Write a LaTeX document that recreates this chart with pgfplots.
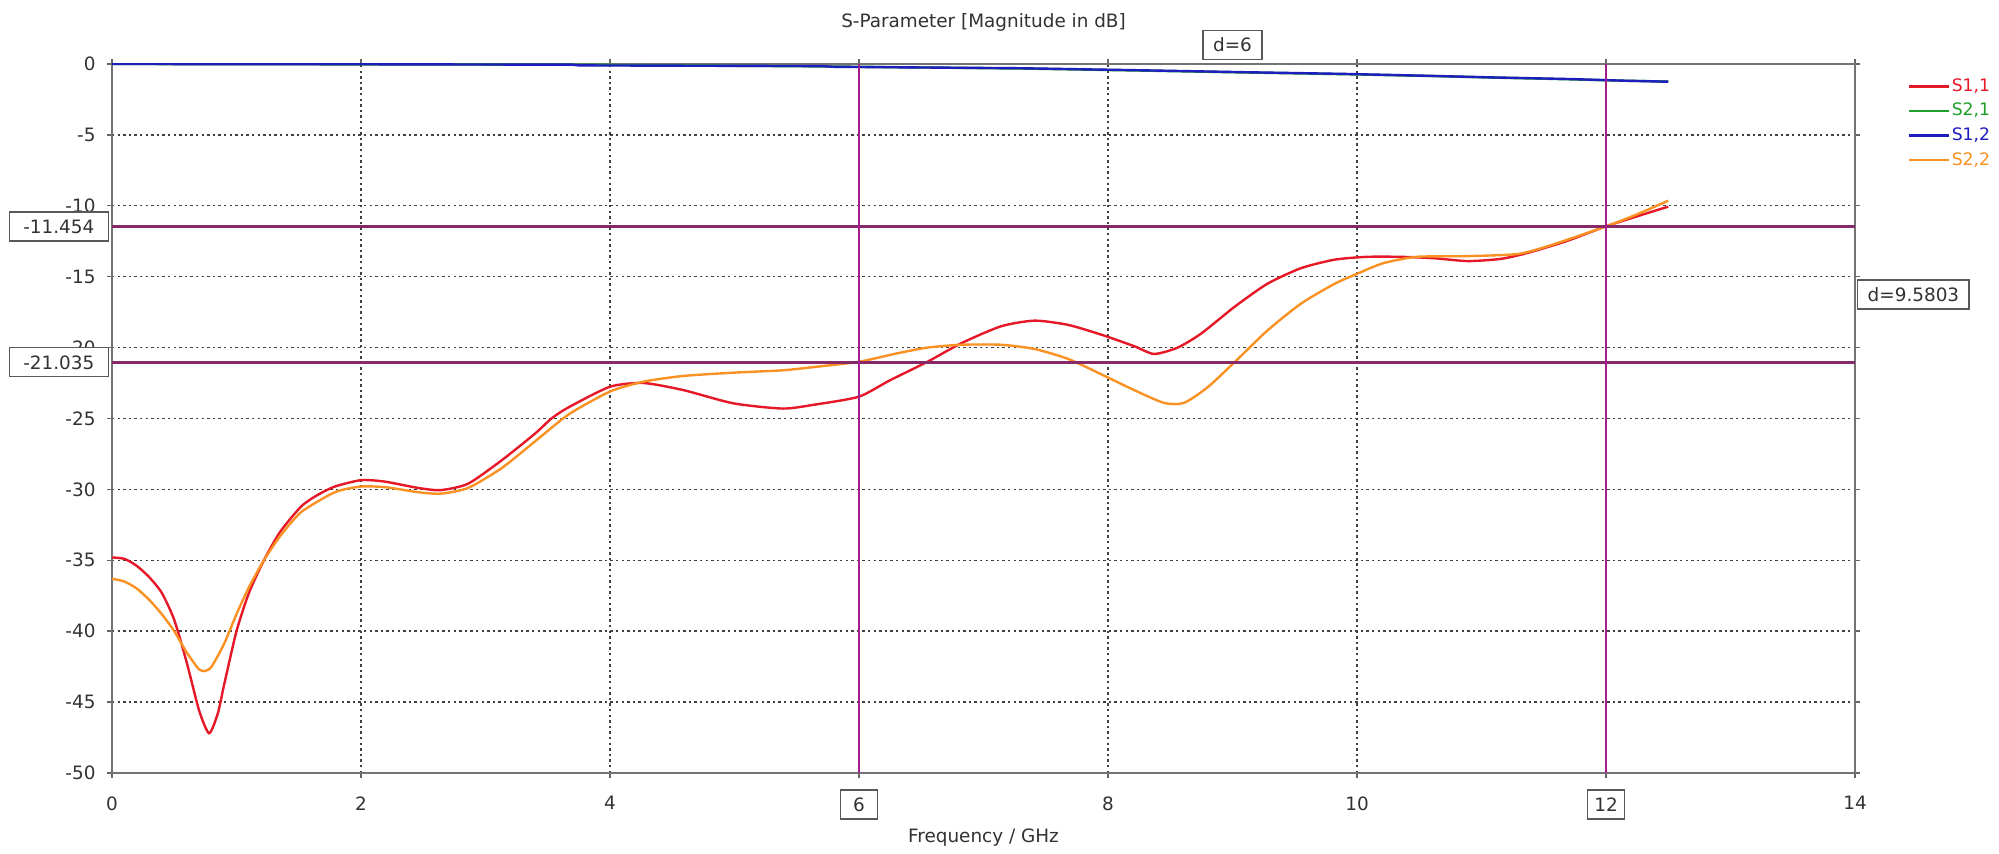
\documentclass[border=0pt]{standalone}
\usepackage{fontspec}
\setmainfont{DejaVu Sans}
\usepackage{pgfplots}
\pgfplotsset{compat=1.18}
\definecolor{sred}{RGB}{230,24,40}
\definecolor{sgreen}{RGB}{30,160,40}
\definecolor{sblue}{RGB}{30,30,190}
\definecolor{sorange}{RGB}{250,145,35}
\definecolor{hmark}{RGB}{135,40,105}
\definecolor{vmark}{RGB}{165,28,140}
\definecolor{txt}{RGB}{50,50,50}
\begin{document}
\fontsize{9.2}{11}\selectfont
\begin{tikzpicture}
\path[use as bounding box, fill=white] (0,0) rectangle (999.5pt,427pt);
\begin{axis}[
  at={(56pt,40.5pt)}, anchor=south west, scale only axis,
  width=871.5pt, height=354.5pt,
  xmin=0, xmax=14, ymin=-50, ymax=0,
  xtick={0,2,...,14}, ytick={-50,-45,...,0},
  xticklabels={0,2,4,{},8,10,{},14},
  grid=major,
  major grid style={dash pattern=on 1.2pt off 1.6pt, black!75, line width=0.7pt},
  axis line style={black!55, line width=0.9pt},
  tick align=outside, major tick length=2.5pt,
  tick style={black!60, line width=0.7pt},
  /pgf/number format/assume math mode=true,
  ticklabel style={font=\fontsize{9.2}{11}\selectfont, text=txt},
  yticklabel style={xshift=-2.5pt},
  xticklabel style={yshift=-6pt},
  title={S-Parameter [Magnitude in dB]},
  title style={at={(axis description cs:0.5,1)}, anchor=center, yshift=15pt, text=txt, font=\fontsize{9.2}{11}\selectfont},
  xlabel={Frequency / GHz},
  xlabel style={at={(axis description cs:0.5,0)}, anchor=center, yshift=-32.5pt, text=txt, font=\fontsize{9.2}{11}\selectfont},
  legend style={at={(1,1)}, anchor=north west, xshift=26pt, yshift=-5pt, draw=none, fill=none,
    font=\fontsize{8.6}{10}\selectfont, row sep=0.3pt, inner sep=0pt,
    nodes={inner xsep=1pt, inner ysep=1.5pt, text height=7pt, text depth=2pt}},
  legend cell align=left,
  legend image code/.code={\draw[#1, line width=1.2pt] (0pt,0pt) -- (20pt,0pt);},
]
% S1,1
\addplot[sred, line width=1.2pt, smooth, tension=0.4] coordinates {
(0,-34.8) (0.1,-34.9) (0.2,-35.4) (0.3,-36.2) (0.4,-37.3) (0.5,-39.2) (0.6,-42.2)
(0.7,-45.6) (0.78,-47.2) (0.85,-45.8) (0.9,-43.8) (1.0,-40.0) (1.1,-37.3) (1.22,-35.0)
(1.35,-33.0) (1.52,-31.2) (1.65,-30.4) (1.79,-29.8) (2.0,-29.35) (2.19,-29.45)
(2.46,-29.9) (2.64,-30.05) (2.86,-29.6) (3.13,-27.95) (3.4,-26.05) (3.53,-25.0)
(3.67,-24.2) (4.0,-22.76) (4.27,-22.5) (4.59,-23.0) (4.99,-23.93) (5.39,-24.3)
(5.66,-24.0) (6.0,-23.46) (6.25,-22.3) (6.55,-21.0) (6.82,-19.7) (7.14,-18.5)
(7.41,-18.1) (7.68,-18.4) (7.95,-19.1) (8.21,-19.9) (8.37,-20.45) (8.56,-20.0)
(8.75,-19.0) (9.02,-17.1) (9.28,-15.5) (9.55,-14.4) (9.82,-13.8) (10.08,-13.6)
(10.35,-13.6) (10.62,-13.7) (10.89,-13.9) (11.15,-13.75) (11.36,-13.35) (11.68,-12.5)
(12.0,-11.45) (12.24,-10.77) (12.5,-10.06)
};
\addlegendentry{\textcolor{sred}{S1,1}}
% S2,1
\addplot[sgreen, line width=1.2pt] coordinates {
(0,0) (3.7,-0.05) (5.7,-0.17) (7.3,-0.32) (8.3,-0.47) (9.1,-0.6) (9.9,-0.72)
(10.6,-0.85) (11.1,-0.96) (11.7,-1.08) (12.15,-1.18) (12.5,-1.24)
};
\addlegendentry{\textcolor{sgreen}{S2,1}}
% S1,2
\addplot[sblue, line width=1.2pt] coordinates {
(0,0) (2,-0.02) (3.7,-0.05) (3.75,-0.1) (5.7,-0.15) (5.8,-0.2) (7.3,-0.3) (8.3,-0.45)
(9.1,-0.58) (9.9,-0.7) (10.6,-0.84) (11.1,-0.95) (11.7,-1.06) (12.15,-1.18) (12.5,-1.25)
};
\addlegendentry{\textcolor{sblue}{S1,2}}
% S2,2
\addplot[sorange, line width=1.2pt, smooth, tension=0.4] coordinates {
(0,-36.3) (0.1,-36.5) (0.2,-37.0) (0.3,-37.8) (0.4,-38.8) (0.5,-40.0) (0.6,-41.5)
(0.7,-42.7) (0.75,-42.8) (0.8,-42.5) (0.9,-40.9) (1.0,-38.8) (1.1,-36.9) (1.22,-35.0)
(1.35,-33.3) (1.52,-31.6) (1.79,-30.2) (2.0,-29.8) (2.2,-29.85) (2.46,-30.2)
(2.64,-30.3) (2.86,-29.9) (3.13,-28.5) (3.4,-26.6) (3.67,-24.7) (4.0,-23.1)
(4.27,-22.4) (4.59,-22.0) (4.99,-21.77) (5.39,-21.6) (5.66,-21.35) (6.0,-21.0)
(6.31,-20.4) (6.55,-20.0) (6.82,-19.8) (7.14,-19.8) (7.41,-20.1) (7.68,-20.8)
(7.95,-21.9) (8.21,-23.0) (8.45,-23.9) (8.61,-23.9) (8.8,-22.8) (9.02,-21.0)
(9.28,-18.8) (9.55,-16.9) (9.82,-15.5) (10.0,-14.8) (10.21,-14.05) (10.48,-13.6)
(10.89,-13.55) (11.29,-13.4) (11.55,-12.8) (12.0,-11.45) (12.25,-10.6) (12.5,-9.64)
};
\addlegendentry{\textcolor{sorange}{S2,2}}
% markers
\addplot[hmark, line width=1.4pt, forget plot] coordinates {(0,-11.454) (14,-11.454)};
\addplot[hmark, line width=1.4pt, forget plot] coordinates {(0,-21.035) (14,-21.035)};
\addplot[vmark, line width=1.1pt, forget plot] coordinates {(6,-50) (6,0)};
\addplot[vmark, line width=1.1pt, forget plot] coordinates {(12,-50) (12,0)};
\coordinate (h1) at (axis cs:0,-11.454);
\coordinate (h2) at (axis cs:0,-21.035);
\coordinate (dd) at (axis cs:14,-16.2445);
\coordinate (d6) at (axis cs:9,0);
\coordinate (x6) at (axis cs:6,-50);
\coordinate (x12) at (axis cs:12,-50);
\end{axis}
\tikzset{mbox/.style={draw=black!65, line width=0.7pt, fill=white, text=txt,
  inner xsep=5pt, inner ysep=0pt, text height=6.9pt, text depth=0pt, minimum height=14.5pt}}
\node[mbox, anchor=east, xshift=-1.5pt, inner xsep=7pt] at (h1) {-11.454};
\node[mbox, anchor=east, xshift=-1.5pt, inner xsep=7pt] at (h2) {-21.035};
\node[mbox, anchor=west, xshift=1pt] at (dd) {d=9.5803};
\node[mbox, anchor=south, yshift=2pt] at (d6) {d=6};
\node[mbox, anchor=center, yshift=-15.75pt, minimum width=18.5pt, inner xsep=2pt] at (x6) {6};
\node[mbox, anchor=center, yshift=-15.75pt, minimum width=18.5pt, inner xsep=2pt] at (x12) {12};
\end{tikzpicture}
\end{document}
